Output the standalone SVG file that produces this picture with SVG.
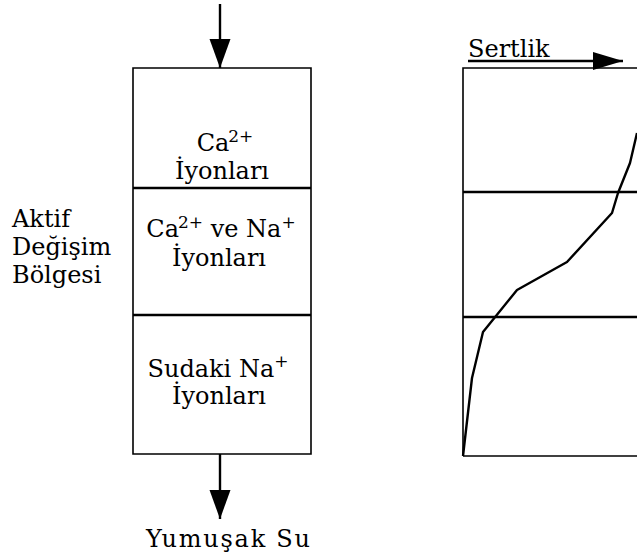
<svg xmlns="http://www.w3.org/2000/svg" width="637" height="559" viewBox="0 0 637 559">
<style>
.t{font-family:"DejaVu Serif","Liberation Serif",serif;font-size:24px;fill:#000}
.c{text-anchor:middle}
.sup{font-size:17px}
.ln{stroke:#000;fill:none;stroke-width:1.6}
.dv{stroke:#000;fill:none;stroke-width:2.4}
.cv{stroke:#000;fill:none;stroke-width:2.4;stroke-linejoin:round}
.ar{stroke:#000;fill:none;stroke-width:2.4}
</style>
<defs>
<marker id="ahv" markerUnits="userSpaceOnUse" markerWidth="30" markerHeight="22" refX="29" refY="10.5" orient="auto"><path d="M0,0 L29,10.5 L0,21 z" fill="#000"/></marker>
<marker id="ahh" markerUnits="userSpaceOnUse" markerWidth="32" markerHeight="20" refX="30" refY="9" orient="auto"><path d="M0,0 L30,9 L0,18 z" fill="#000"/></marker>
</defs>
<rect width="637" height="559" fill="#fff"/>

<g id="label-aktif">
<text class="t" x="12" y="227">Aktif</text>
<text class="t" x="12" y="255">Değişim</text>
<text class="t" x="12" y="283">Bölgesi</text>
</g>

<g id="zone-ca">
<path class="ln" d="M133,188 V68 H311 V188"/>
<text class="t c" x="225" y="151">Ca<tspan class="sup" dx="-1" dy="-9">2+</tspan></text>
<text class="t c" x="222" y="179">İyonları</text>
</g>

<g id="zone-mixed">
<path class="ln" d="M133,188 V315 M311,188 V315"/>
<line class="dv" x1="133" y1="188" x2="311" y2="188"/>
<text class="t c" x="221" y="237">Ca<tspan class="sup" dx="-1" dy="-9">2+</tspan><tspan dy="9"> ve Na</tspan><tspan class="sup" dy="-9">+</tspan></text>
<text class="t c" x="219" y="266">İyonları</text>
</g>

<g id="zone-na">
<path class="ln" d="M133,315 V454 H311 V315"/>
<line class="dv" x1="133" y1="315" x2="311" y2="315"/>
<text class="t c" x="218" y="377">Sudaki Na<tspan class="sup" dy="-10">+</tspan></text>
<text class="t c" x="219" y="404">İyonları</text>
</g>

<g id="label-yumusak">
<text class="t c" x="228" y="547" font-size="25" textLength="164">Yumuşak Su</text>
</g>

<g id="chart">
<text class="t" x="468" y="57">Sertlik</text>
<path class="ln" d="M463,456 V68 H637"/>
<line class="dv" x1="463" y1="192" x2="637" y2="192"/>
<line class="dv" x1="463" y1="317" x2="637" y2="317"/>
<line class="ln" x1="463" y1="456" x2="637" y2="456"/>
<polyline class="cv" points="463,456 472,378 483,332 517,290 567,262 612,213 618,193 630,163 637,133"/>
</g>

<g id="connectors">
<line class="ar" x1="220" y1="4" x2="220" y2="68" marker-end="url(#ahv)"/>
<line class="ar" x1="220" y1="454" x2="220" y2="519" marker-end="url(#ahv)"/>
<line class="ar" x1="468" y1="61" x2="623" y2="61" stroke-width="2.6" marker-end="url(#ahh)"/>
</g>
</svg>
